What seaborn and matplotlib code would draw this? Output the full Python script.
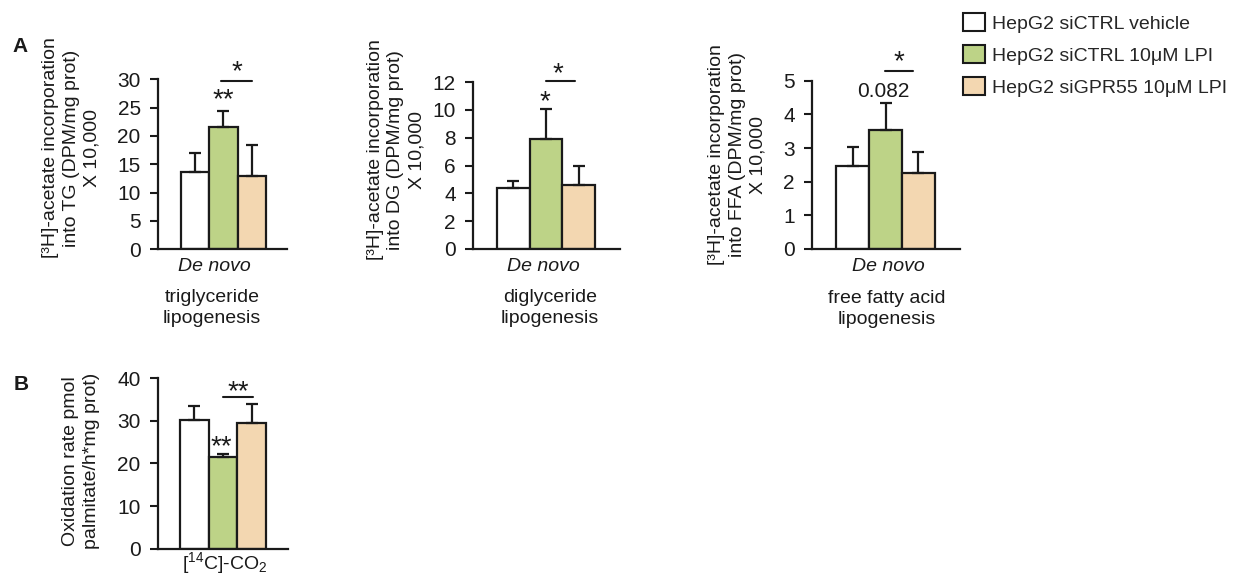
import matplotlib
matplotlib.use("Agg")
import matplotlib.pyplot as plt
import matplotlib.transforms as mtransforms
from matplotlib.patches import Patch
import numpy as np
import pandas as pd
import seaborn as sns

# groups and colours
groups = ["HepG2 siCTRL vehicle", "HepG2 siCTRL 10μM LPI", "HepG2 siGPR55 10μM LPI"]
colors = ["#ffffff", "#bdd387", "#f3d7b1"]

# mean and upper error
tg_mean = [13.7, 21.6, 13.0]
tg_err = [3.35, 2.8, 5.4]
dg_mean = [4.38, 7.9, 4.62]
dg_err = [0.53, 2.16, 1.37]
ffa_mean = [2.47, 3.54, 2.25]
ffa_err = [0.56, 0.8, 0.62]
co2_mean = [30.1, 21.4, 29.4]
co2_err = [3.3, 0.9, 4.5]

tg_ticks = [0, 5, 10, 15, 20, 25, 30]
dg_ticks = [0, 2, 4, 6, 8, 10, 12]
ffa_ticks = [0, 1, 2, 3, 4, 5]
co2_ticks = [0, 10, 20, 30, 40]

W, H = 1238, 582
ink = "#1a1a1a"

sns.set_style("ticks")
plt.rcParams["font.family"] = ["Liberation Sans", "DejaVu Sans"]
plt.rcParams["mathtext.fontset"] = "custom"
plt.rcParams["mathtext.rm"] = "Liberation Sans"
plt.rcParams["mathtext.it"] = "Liberation Sans:italic"

fig = plt.figure(figsize=(W / 100, H / 100), dpi=100)


def px_rect(left, top, right, bottom):
    return [left / W, 1 - bottom / H, (right - left) / W, (bottom - top) / H]


def ftext(x, y, s, **kw):
    kw.setdefault("fontsize", 14)
    kw.setdefault("ha", "center")
    kw.setdefault("va", "center")
    fig.text(x / W, 1 - y / H, s, color=ink, **kw)


def star(ax, x, y, s, size=20):
    # place the glyph centre (not the text box) at y
    tr = mtransforms.offset_copy(ax.transData, fig=fig, y=-0.4 * size, units="points")
    ax.text(x, y, s, transform=tr, ha="center", va="baseline", fontsize=size, color=ink)


def bracket(ax, x0, x1, y):
    ax.plot([x0, x1], [y, y], color=ink, lw=1.5, clip_on=False)


def bar_panel(rect, mean, err, ticks, xlim):
    ax = fig.add_axes(px_rect(*rect))
    df = pd.DataFrame({"group": groups, "value": mean})
    sns.barplot(data=df, x="group", y="value", hue="group", order=groups,
                hue_order=groups, palette=colors, saturation=1, width=1.0,
                edgecolor=ink, linewidth=1.6, errorbar=None, legend=False, ax=ax)
    ax.errorbar(np.arange(len(mean)), mean, yerr=[np.zeros(len(err)), err],
                fmt="none", ecolor=ink, elinewidth=1.6, capsize=4.3, capthick=1.6)
    ax.set_xlim(*xlim)
    ax.set_ylim(ticks[0], ticks[-1])
    ax.set_yticks(ticks)
    ax.set_xticks([])
    ax.set_xlabel("")
    ax.set_ylabel("")
    sns.despine(ax=ax)
    for sp in ["left", "bottom"]:
        ax.spines[sp].set_linewidth(1.6)
        ax.spines[sp].set_color(ink)
    ax.tick_params(axis="y", length=5.5, width=1.5, pad=7, labelsize=15,
                   colors=ink)
    ax.set_facecolor("none")
    return ax


ylab_a = "[³H]-acetate incorporation\ninto {} (DPM/mg prot)\nX 10,000"

# A: triglyceride
ax1 = bar_panel((158, 79.3, 287, 249.3), tg_mean, tg_err, tg_ticks, (-1.31, 3.24))
star(ax1, 0.98, 27.0, "**")
bracket(ax1, 0.92, 2.0, 29.76)
star(ax1, 1.46, 31.9, "*")
ftext(71, 148, ylab_a.format("TG"), rotation=90, linespacing=1.3, multialignment="center")
ftext(214, 267, "De novo", style="italic")
ftext(212, 308, "triglyceride\nlipogenesis", linespacing=1.3)

# A: diglyceride
ax2 = bar_panel((473, 82, 620, 249), dg_mean, dg_err, dg_ticks, (-1.23, 3.26))
star(ax2, 0.96, 10.85, "*")
bracket(ax2, 0.99, 1.9, 12.1)
star(ax2, 1.36, 12.85, "*")
ftext(396, 150, ylab_a.format("DG"), rotation=90, linespacing=1.3, multialignment="center")
ftext(543, 267, "De novo", style="italic")
ftext(550, 308, "diglyceride\nlipogenesis", linespacing=1.3)

# A: free fatty acid
ax3 = bar_panel((812, 80.7, 960, 249), ffa_mean, ffa_err, ffa_ticks, (-1.23, 3.26))
tr = mtransforms.offset_copy(ax3.transData, fig=fig, y=-0.36 * 15, units="points")
ax3.text(0.92, 4.75, "0.082", transform=tr, ha="center", va="baseline", fontsize=15, color=ink)
bracket(ax3, 0.98, 1.83, 5.29)
star(ax3, 1.41, 5.66, "*")
ftext(737, 155, ylab_a.format("FFA"), rotation=90, linespacing=1.3, multialignment="center")
ftext(888, 267, "De novo", style="italic")
ftext(887, 309, "free fatty acid\nlipogenesis", linespacing=1.3)

# B: oxidation
ax4 = bar_panel((158, 378, 288, 548.7), co2_mean, co2_err, co2_ticks, (-1.27, 3.27))
star(ax4, 0.95, 24.7, "**")
bracket(ax4, 1.0, 2.04, 35.6)
star(ax4, 1.52, 37.6, "**")
ftext(81, 461, "Oxidation rate pmol\npalmitate/h*mg prot)", rotation=90,
      linespacing=1.3, multialignment="center")
ftext(225, 563, r"[$^{14}$C]-CO$_{2}$")

# panel letters
ftext(20, 46, "A", fontsize=15, fontweight="bold")
ftext(21, 384, "B", fontsize=15, fontweight="bold")

handles = [Patch(facecolor=c, edgecolor=ink, linewidth=1.5, label=g)
           for g, c in zip(groups, colors)]
fig.legend(handles=handles, loc="upper left", bbox_to_anchor=(963 / W, 1 - 13 / H),
           frameon=False, borderpad=0, borderaxespad=0, fontsize=14,
           handlelength=1.13, handleheight=1.08, handletextpad=0.36,
           labelspacing=0.62)

fig.savefig("out.png", dpi=100)
